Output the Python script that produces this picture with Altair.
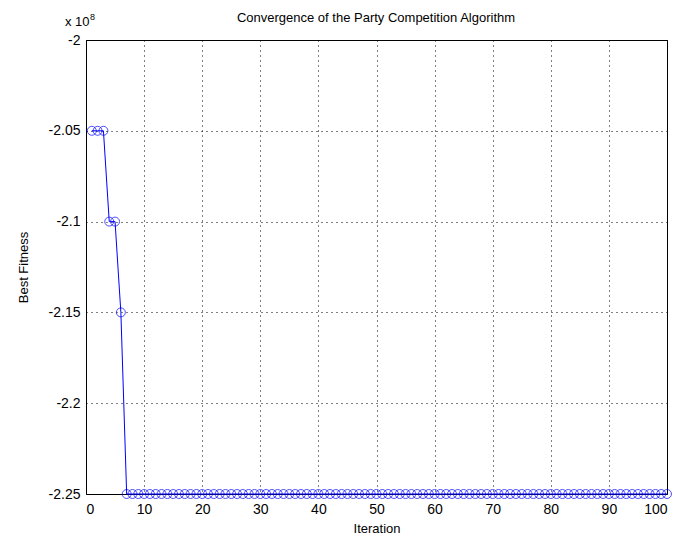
import altair as alt
import pandas as pd

iterations = list(range(1, 101))
best_fitness = [-2.05e8, -2.05e8, -2.05e8, -2.10e8, -2.10e8, -2.15e8] + [-2.25e8] * 94
title_text = "Convergence of the Party Competition Algorithm"

df = pd.DataFrame({"Iteration": iterations, "Best": best_fitness})

FONT = "Liberation Sans"

x = alt.X("Iteration:Q", scale=alt.Scale(domain=[0, 100], nice=False),
          axis=alt.Axis(values=list(range(0, 101, 10)), title="Iteration",
                        grid=True, gridDash=[1, 4], gridColor="black", gridOpacity=1,
                        domain=False, ticks=False, labelPadding=8,
                        labelFont=FONT, labelFontSize=14, labelColor="black",
                        titleFont=FONT, titleFontSize=13, titleFontWeight="normal",
                        titleColor="black", titlePadding=6))
y = alt.Y("Best:Q", scale=alt.Scale(domain=[-2.25e8, -2.0e8], nice=False, zero=False),
          axis=alt.Axis(values=[-2.25e8, -2.2e8, -2.15e8, -2.1e8, -2.05e8, -2.0e8],
                        labelExpr="replace(format(datum.value / 1e8, '.3~f'), '\u2212', '-')",
                        title="Best Fitness",
                        grid=True, gridDash=[1, 4], gridColor="black", gridOpacity=1,
                        domain=False, ticks=False, labelPadding=6,
                        labelFont=FONT, labelFontSize=14, labelColor="black",
                        titleFont=FONT, titleFontSize=13, titleFontWeight="normal",
                        titleColor="black", titlePadding=18))

line = alt.Chart(df).mark_line(color="#0000ff", strokeWidth=1).encode(x=x, y=y)
pts = alt.Chart(df).mark_point(shape="circle", filled=False, color="#0000ff",
                               size=80, strokeWidth=1).encode(x="Iteration:Q", y="Best:Q")

one = df.head(1)
exp_base = alt.Chart(one).mark_text(text="x 10", font=FONT, fontSize=13,
                                    color="black", align="left", baseline="bottom").encode(
    x=alt.value(-21), y=alt.value(-11))
exp_sup = alt.Chart(one).mark_text(text="8", font=FONT, fontSize=9,
                                   color="black", align="left", baseline="bottom").encode(
    x=alt.value(4), y=alt.value(-18))
title_mark = alt.Chart(one).mark_text(text=title_text, font=FONT, fontSize=13,
                                      color="black", align="center", baseline="middle").encode(
    x=alt.value(290), y=alt.value(-22))

chart = alt.layer(line, pts, exp_base, exp_sup, title_mark).properties(
    width=581, height=454,
    autosize=alt.AutoSizeParams(type="none"),
    padding={"left": 78, "top": 32, "right": 10, "bottom": 40},
    background="white",
).configure_view(stroke="black", strokeWidth=1)

chart.save("out.html", embed_options={"renderer": "svg", "actions": False})
